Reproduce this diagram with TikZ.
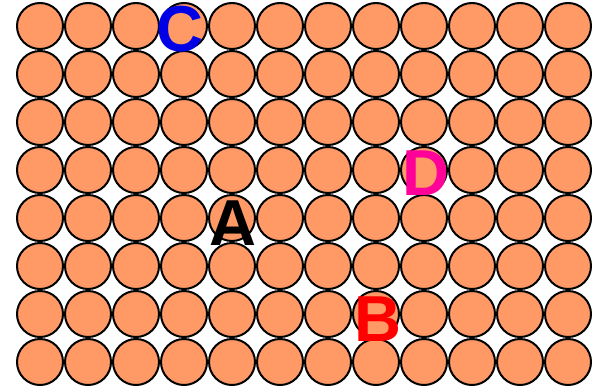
\documentclass[tikz,border=0pt]{standalone}
\usepackage{fontspec}
\setmainfont{Liberation Sans}
\definecolor{ballfill}{RGB}{255,153,102}
\definecolor{cblue}{RGB}{0,0,230}
\definecolor{dmag}{RGB}{255,0,153}
\definecolor{bred}{RGB}{255,0,0}
\begin{document}
\begin{tikzpicture}[x=1pt,y=-1pt,
  ball/.style={circle,draw=black,line width=2pt,fill=ballfill,minimum size=46pt,inner sep=0pt},
  letter/.style={anchor=base,inner sep=0pt,font=\fontsize{65}{65}\selectfont\bfseries}]
\useasboundingbox (0,0) rectangle (596,391);
\foreach \i in {0,...,11}{
  \foreach \j in {0,...,7}{
    \node[ball] (c-\i-\j) at ({40+48*\i},{26+48*\j}) {};
  }
}
\node[letter,text=black] (A) at (233,245) {A};
\node[letter,text=bred] (B) at (378,341) {B};
\node[letter,text=cblue] (C) at (180,51) {C};
\node[letter,text=dmag] (D) at (426,195) {D};
\end{tikzpicture}
\end{document}
